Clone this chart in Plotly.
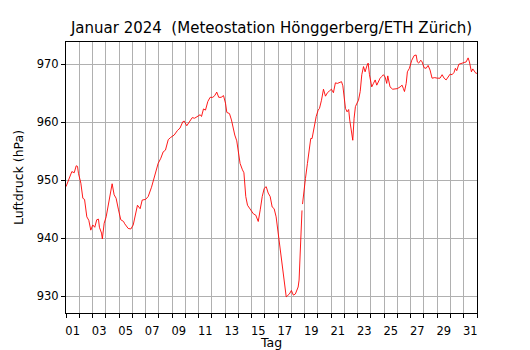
import plotly.graph_objects as go

# Time in days since 2024-01-01 00:00 and air pressure (hPa)
days = [0.00, 0.19, 0.44, 0.62, 0.77, 0.87, 0.94, 1.12, 1.27, 1.40, 1.57, 1.72, 1.87, 2.02, 2.17,
        2.32, 2.45, 2.52, 2.68, 2.74, 2.88, 3.03, 3.20, 3.38, 3.48, 3.63, 3.78, 3.96, 4.13, 4.34,
        4.43, 4.69, 4.89, 5.07, 5.24, 5.39, 5.59, 5.75, 6.00, 6.20, 6.45, 6.57, 6.77, 6.95, 7.15,
        7.33, 7.50, 7.71, 7.90, 8.16, 8.41, 8.60, 8.81, 8.92, 9.11, 9.31, 9.52, 9.70, 9.94, 10.12,
        10.22, 10.37, 10.52, 10.70, 10.87, 11.07, 11.22, 11.37, 11.52, 11.70, 11.88, 12.03, 12.13,
        12.33, 12.48, 12.58, 12.73, 12.88, 12.98, 13.13, 13.31, 13.42, 13.56, 13.69, 13.84, 13.99,
        14.14, 14.31, 14.50, 14.65, 14.80, 14.95, 15.10, 15.25, 15.40, 15.55, 15.70, 15.85, 16.00,
        16.15, 16.30, 16.45, 16.61, 16.70, 16.85, 17.00, 17.15, 17.30, 17.46, 17.51, 17.58, 17.66,
        17.76, 17.80, 17.82, 17.84, 17.93, 18.06, 18.21, 18.36, 18.46, 18.56, 18.72, 18.87, 19.02,
        19.12, 19.27, 19.42, 19.57, 19.72, 19.87, 20.02, 20.17, 20.32, 20.47, 20.63, 20.78, 20.88,
        20.98, 21.08, 21.20, 21.32, 21.40, 21.53, 21.63, 21.73, 21.83, 21.95, 22.06, 22.19, 22.31,
        22.44, 22.56, 22.69, 22.79, 22.89, 23.06, 23.19, 23.32, 23.44, 23.57, 23.69, 23.82, 23.94,
        24.07, 24.19, 24.27, 24.44, 24.64, 24.82, 24.99, 25.20, 25.35, 25.45, 25.53, 25.66, 25.75,
        25.90, 26.08, 26.26, 26.41, 26.50, 26.60, 26.76, 26.86, 27.01, 27.16, 27.31, 27.46, 27.61,
        27.81, 28.01, 28.21, 28.37, 28.52, 28.67, 28.82, 28.97, 29.12, 29.27, 29.37, 29.47, 29.63,
        29.83, 30.03, 30.18, 30.33, 30.43, 30.58, 30.68, 30.78, 30.93, 30.99]

pressure = [948.9, 950.2, 951.5, 951.3, 952.5, 952.4, 951.2, 949.5, 946.9, 946.7, 943.7, 943.1, 941.4, 942.3, 941.9,
            943.2, 943.3, 941.9, 940.9, 939.9, 942.6, 943.7, 946.0, 948.6, 949.4, 947.5, 946.9, 944.9, 943.2, 942.9,
            942.5, 941.7, 941.6, 942.3, 944.0, 945.7, 945.1, 946.6, 946.7, 947.2, 948.8, 949.8, 951.8, 952.9, 953.8,
            954.9, 955.2, 957.0, 957.4, 957.8, 958.6, 959.0, 960.1, 960.2, 959.4, 960.2, 960.8, 960.7, 961.0, 961.3,
            961.0, 962.3, 962.1, 963.6, 964.3, 964.3, 964.6, 965.2, 964.3, 964.3, 964.6, 963.3, 961.7,
            961.5, 960.4, 959.1, 957.8, 956.8, 955.5, 952.9, 951.8, 951.3, 947.2, 945.7, 945.2, 944.6,
            944.2, 944.0, 942.9, 944.9, 947.2, 948.6, 948.9, 947.8, 947.2, 945.4, 945.1, 943.7, 940.9,
            937.7, 934.8, 932.8, 929.9, 930.1, 930.4, 931.0, 930.2, 930.4, 931.4, 931.6, 932.8, 938.0,
            942.6, 944.8, None, 945.9, 948.3, 950.3, 952.9, 955.8, 957.2, 957.2, 959.2, 961.0, 962.1,
            962.4, 963.8, 965.7, 964.5, 965.1, 965.4, 965.7, 965.1, 966.8, 966.7, 966.8, 967.0, 966.3,
            964.1, 962.4, 961.8, 962.2, 960.4, 958.1, 956.9, 960.7, 962.7, 963.3, 963.8, 965.3, 968.2,
            969.6, 968.7, 969.7, 970.2, 968.2, 966.1, 966.7, 967.3, 966.4, 967.0, 967.6, 967.9, 968.2,
            967.8, 966.7, 968.0, 966.1, 965.7, 965.8, 965.8, 966.1, 966.4, 965.8, 965.3, 966.7, 968.7,
            969.3, 970.7, 971.5, 971.6, 970.4, 970.2, 970.7, 970.4, 969.4, 969.3, 969.8, 969.0, 967.6,
            967.7, 967.6, 967.6, 968.2, 967.6, 967.3, 967.9, 968.3, 968.2, 968.6, 969.3, 968.9, 970.0,
            970.2, 970.3, 970.4, 971.1, 970.4, 968.7, 969.2, 968.9, 968.4, 968.5]

day_label_pos = [d + 0.5 for d in range(0, 31, 2)]
day_labels = ["01", "03", "05", "07", "09", "11", "13", "15", "17", "19", "21", "23", "25", "27", "29", "31"]
y_ticks = [930, 940, 950, 960, 970]

FONT = "DejaVu Sans"
GRID = "#b0b0b0"
W, H = 522, 342  # page body adds an 8px offset inside the 530x350 window

fig = go.Figure()
fig.add_trace(go.Scatter(x=days, y=pressure, mode="lines",
                         line=dict(color="#ff0000", width=0.9), connectgaps=False,
                         showlegend=False, hoverinfo="x+y"))

fig.update_layout(
    width=W, height=H,
    margin=dict(l=58, r=53, t=34, b=37, autoexpand=False),
    paper_bgcolor="white", plot_bgcolor="white",
    font=dict(family=FONT, size=11.5, color="black"),
    title=dict(text="Januar 2024  (Meteostation Hönggerberg/ETH Zürich)",
               font=dict(family=FONT, size=15, color="black"),
               xref="paper", x=0.5, xanchor="center",
               yref="container", y=1 - 20 / H, yanchor="middle"),
    xaxis=dict(range=[0, 31], tickmode="array", tickvals=day_label_pos, ticktext=day_labels,
               ticks="outside", ticklen=7, tickcolor="rgba(0,0,0,0)",
               showgrid=False, zeroline=False, automargin=False,
               showline=True, linecolor="black", linewidth=1, mirror=True,
               tickfont=dict(family=FONT, size=11.5, color="black"),
               minor=dict(tickmode="linear", tick0=0, dtick=1, ticks="outside", ticklen=4,
                          tickcolor="black", tickwidth=1, showgrid=True, gridcolor=GRID, gridwidth=1),
               title=dict(text="Tag", font=dict(family=FONT, size=12.5, color="black"), standoff=1)),
    yaxis=dict(range=[927.12, 973.84], tickmode="array", tickvals=y_ticks,
               ticks="outside", ticklen=4, tickcolor="black", tickwidth=1,
               showgrid=True, gridcolor=GRID, gridwidth=1, zeroline=False, automargin=False,
               showline=True, linecolor="black", linewidth=1, mirror=True,
               tickfont=dict(family=FONT, size=11.5, color="black"),
               title=dict(text="Luftdruck (hPa)", font=dict(family=FONT, size=12.5, color="black"), standoff=10)),
)

fig.write_html("out.html")
